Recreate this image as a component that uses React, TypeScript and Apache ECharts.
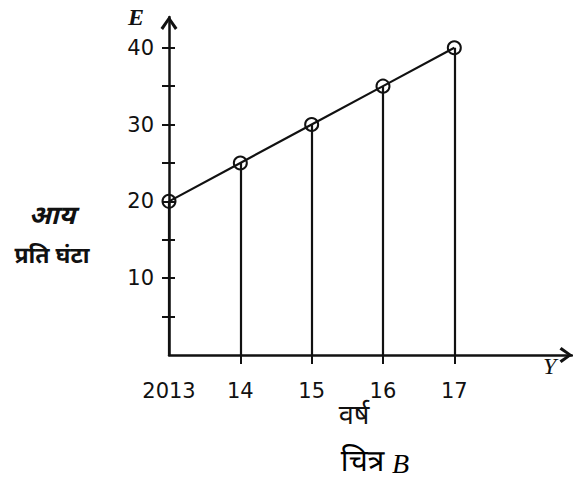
import React, { useEffect, useRef } from "react";
import * as echarts from "echarts";

const years = [2013, 2014, 2015, 2016, 2017];
const yearLabels = ["2013", "14", "15", "16", "17"];
const income = [20, 25, 30, 35, 40];
const xTickValues = [2014, 2015, 2016, 2017];
const yTickValues = [5, 10, 15, 20, 25, 30, 35, 40];
const yLabelValues = [10, 20, 30, 40];

const INK = "#111";
const NUM_FONT = "DejaVu Sans";
const DEV_FONT = "'Noto Sans Devanagari', 'Lohit Devanagari', 'Noto Sans', 'DejaVu Sans', sans-serif";
const chevron = "path://M10,0 L20,14 L17,16.5 L10,6 L3,16.5 L0,14 Z";

export default function App() {
  const ref = useRef<HTMLDivElement>(null);
  useEffect(() => {
    const chart = echarts.init(ref.current!, null, { renderer: "svg" });
    const points = years.map((y, i) => [y, income[i]]);
    chart.setOption({
      animation: false,
      backgroundColor: "#fff",
      grid: { left: 169, right: 1, top: 17, bottom: 130 },
      xAxis: {
        type: "value",
        min: 2013,
        max: 2018.65,
        splitLine: { show: false },
        axisLine: {
          show: true,
          lineStyle: { color: INK, width: 2.5 },
          symbol: ["none", chevron],
          symbolSize: [16, 13],
          symbolOffset: [0, -6],
        },
        axisTick: {
          show: true,
          length: 9,
          customValues: xTickValues,
          lineStyle: { color: INK, width: 2 },
        },
        axisLabel: {
          customValues: years,
          margin: 25,
          color: INK,
          fontFamily: NUM_FONT,
          fontSize: 21,
          formatter: (v: number) => yearLabels[years.indexOf(Math.round(v))] ?? "",
        },
      },
      yAxis: [
        {
          type: "value",
          min: 0,
          max: 44,
          position: "left",
          splitLine: { show: false },
          axisLine: {
            show: true,
            lineStyle: { color: INK, width: 2.5 },
            symbol: ["none", chevron],
            symbolSize: [17, 14],
            symbolOffset: [0, -6],
          },
          axisTick: {
            show: true,
            length: 7,
            customValues: yTickValues,
            lineStyle: { color: INK, width: 2 },
          },
          axisLabel: {
            customValues: yLabelValues,
            margin: 15,
            color: INK,
            fontFamily: NUM_FONT,
            fontSize: 21,
          },
        },
        {
          type: "value",
          min: 0,
          max: 44,
          position: "left",
          splitLine: { show: false },
          axisLine: { show: false },
          axisTick: {
            show: true,
            inside: true,
            length: 6,
            customValues: yTickValues,
            lineStyle: { color: INK, width: 2 },
          },
          axisLabel: { show: false },
        },
      ],
      series: [
        {
          type: "line",
          data: points,
          symbol: "circle",
          symbolSize: 13,
          lineStyle: { color: INK, width: 2.2 },
          itemStyle: { color: "rgba(255,255,255,0)", borderColor: INK, borderWidth: 2 },
          z: 5,
          markLine: {
            silent: true,
            symbol: "none",
            label: { show: false },
            lineStyle: { color: INK, width: 2.2, type: "solid" },
            data: points.map((p) => [
              { coord: [p[0], 0] },
              { coord: [p[0], p[1]] },
            ]),
          },
        },
      ],
      graphic: [
        {
          type: "text",
          left: 128,
          top: 5,
          style: { text: "E", fontFamily: "'Liberation Serif', serif", fontStyle: "italic", fontWeight: "bold", fontSize: 24, fill: INK },
        },
        {
          type: "text",
          left: 543,
          top: 354,
          style: { text: "Y", fontFamily: "'Liberation Serif', serif", fontStyle: "italic", fontSize: 24, fill: INK },
        },
        {
          type: "text",
          x: 52,
          y: 218,
          style: { text: "आय", fontFamily: DEV_FONT, fontWeight: "bold", fontStyle: "italic", fontSize: 26, fill: INK, align: "center", verticalAlign: "middle" },
        },
        {
          type: "text",
          x: 52,
          y: 257,
          style: { text: "प्रति घंटा", fontFamily: DEV_FONT, fontWeight: "bold", fontSize: 23, fill: INK, align: "center", verticalAlign: "middle" },
        },
        {
          type: "text",
          x: 354,
          y: 417,
          style: { text: "वर्ष", fontFamily: DEV_FONT, fontSize: 27, fill: INK, align: "center", verticalAlign: "middle" },
        },
        {
          type: "text",
          x: 375,
          y: 463,
          style: {
            text: "{a|चित्र }{b|B}",
            align: "center",
            verticalAlign: "middle",
            rich: {
              a: { fontFamily: DEV_FONT, fontSize: 30, color: INK },
              b: { fontFamily: "'Liberation Serif', serif", fontStyle: "italic", fontSize: 28, color: INK },
            },
          },
        },
      ],
    });
    return () => chart.dispose();
  }, []);
  return (
    <div
      ref={ref}
      style={{ position: "absolute", left: 0, top: 0, width: 573, height: 485 }}
    />
  );
}
